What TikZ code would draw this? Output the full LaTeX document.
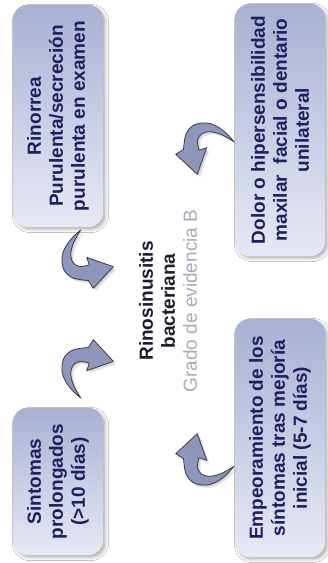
\documentclass[tikz,border=0pt]{standalone}
\usepackage{fontspec}
\setmainfont{Liberation Sans}
\usetikzlibrary{shadows.blur}

\definecolor{boxtop}{HTML}{A9B1D3}
\definecolor{boxbot}{HTML}{E6E9F5}
\definecolor{boxtext}{HTML}{1D1F5E}
\definecolor{maintext}{HTML}{1C1C2C}
\definecolor{softgray}{HTML}{A9ABBB}
\definecolor{arrowfill}{HTML}{8E97BB}
\definecolor{arrowline}{HTML}{3C3C4C}

\tikzset{
  box/.style={rounded corners=14pt, inner sep=0pt, top color=boxtop, bottom color=boxbot,
    draw=none,
    blur shadow={shadow xshift=2.5pt, shadow yshift=-2.5pt, shadow opacity=30, shadow blur radius=3pt}},
  boxlabel/.style={rotate=90, align=center, inner sep=0pt, text=boxtext,
    font=\fontsize{19}{22}\selectfont\bfseries},
  arrowbody/.style={fill=arrowfill, draw=arrowline, line width=0.8pt, line join=round},
  pics/crescent/.style={code={
    \path[#1] plot[smooth, tension=0.6] coordinates
        {(-6.3,-29) (-14,-22) (-21,-13) (-25,-2) (-23,11) (-14,19) (1.5,21.5)}
      -- (6.3,29.3) -- (26.3,7.7) -- (-0.3,-1.7) -- (2.3,6)
      -- plot[smooth, tension=0.6] coordinates
        {(2.3,6) (-7,7.5) (-13.7,4) (-16.3,-4) (-13.7,-15.7) (-6.3,-29)}
      -- cycle;
  }}
}

% curved arrow: centre x, centre y, orientation
\newcommand\crescentarrow[3]{%
  \foreach \s in {1,2,3}{\pic[#3] at (#1+\s,#2+\s) {crescent={fill=black, fill opacity=0.07, draw=none}};}
  \pic[#3] at (#1,#2) {crescent=arrowbody};
}

\begin{document}
\begin{tikzpicture}[x=1pt,y=-1pt]
\useasboundingbox[fill=white] (0,0) rectangle (328,563);

% boxes
\node[box, minimum width=90pt, minimum height=222pt] (rin) at (58,116) {};
\node[box, minimum width=90pt, minimum height=252pt] (dol) at (280,130) {};
\node[box, minimum width=90pt, minimum height=147pt] (sin) at (58,481.5) {};
\node[box, minimum width=90pt, minimum height=238pt] (emp) at (280,438) {};

% box texts
\node[boxlabel] (rint) at (rin) {Rinorrea\\Purulenta/secreción\\purulenta en examen};
\node[boxlabel] (dolt) at (dol) {Dolor o hipersensibilidad\\maxilar\ \ facial o dentario\\unilateral};
\node[boxlabel] (sint) at (sin) {Sintomas\\prolongados\\(>10 días)};
\node[boxlabel] (empt) at (emp) {Empeoramiento de los\\síntomas tras mejoría\\inicial (5-7 días)};

% centre
\node[rotate=90, align=center, inner sep=0pt, text=maintext,
      font=\fontsize{19}{22}\selectfont\bfseries] (centro) at (168,301)
  {Rinosinusitis\\bacteriana\\{\mdseries\color{softgray}Grado de evidencia B}};

% curved arrows
\crescentarrow{87}{259}{}
\crescentarrow{87}{369}{yscale=-1}
\crescentarrow{205}{148}{rotate=-90}
\crescentarrow{205}{460}{cm={0,1,1,0,(0,0)}}
\end{tikzpicture}
\end{document}
